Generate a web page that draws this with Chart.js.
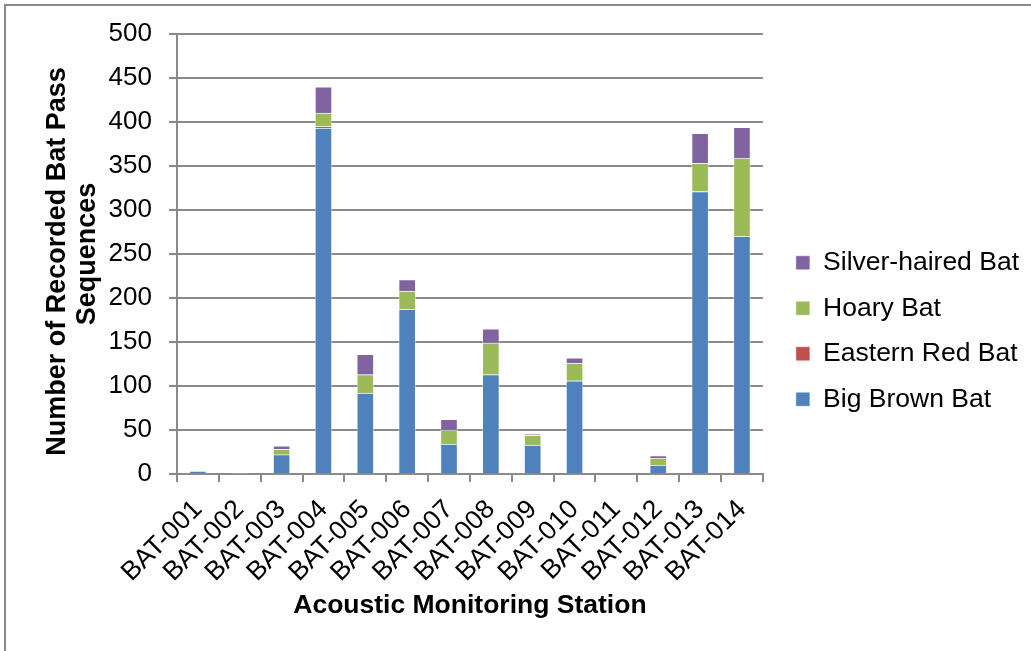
<!DOCTYPE html>
<html>
<head>
<meta charset="utf-8">
<script src="https://cdn.jsdelivr.net/npm/chart.js@4/dist/chart.umd.min.js"></script>
<style>
  html, body { margin: 0; padding: 0; background: #ffffff; }
  #wrap { width: 1031px; height: 651px; position: relative; }
</style>
</head>
<body>
<div id="wrap"><canvas id="c" width="1031" height="651"></canvas></div>
<script>
const stations = ['BAT-001','BAT-002','BAT-003','BAT-004','BAT-005','BAT-006','BAT-007','BAT-008','BAT-009','BAT-010','BAT-011','BAT-012','BAT-013','BAT-014'];
const bigBrownBat    = [3, 0, 22, 393, 92, 187, 34, 113, 33, 106, 0, 10, 321, 270];
const easternRedBat  = [0, 0, 0, 2, 0, 0, 0, 0, 0, 0, 0, 0, 0, 0];
const hoaryBat       = [0, 1, 6, 15, 21, 21, 16, 36, 11, 20, 0, 8, 32, 89];
const silverHairedBat= [0, 0, 4, 30, 23, 13, 12, 16, 1, 6, 0, 3, 34, 35];
const yTicks = [0, 50, 100, 150, 200, 250, 300, 350, 400, 450, 500];

const FONT = "'Liberation Sans', Arial, sans-serif";
const GRID = '#8a8a8a';

const frame = {
  id: 'frame',
  afterLayout(chart) {
    const lg = chart.legend;
    if (lg) {
      const w = lg.width;
      lg.left = chart.chartArea.right + 14;
      lg.right = lg.left + w;
    }
  },
  beforeDraw(chart) {
    const ctx = chart.ctx;
    ctx.save();
    ctx.fillStyle = '#ffffff';
    ctx.fillRect(0, 0, chart.width, chart.height);
    ctx.strokeStyle = '#8a8a8a';
    ctx.lineWidth = 2;
    ctx.beginPath();
    ctx.moveTo(5, chart.height);
    ctx.lineTo(5, 5);
    ctx.lineTo(chart.width, 5);
    ctx.stroke();
    ctx.restore();
  }
};

const mk = (label, data, color) => ({
  label, data,
  backgroundColor: color,
  borderColor: 'rgba(255,255,255,0.45)',
  borderWidth: 1,
  barThickness: 17
});

new Chart(document.getElementById('c'), {
  type: 'bar',
  data: {
    labels: stations,
    datasets: [
      mk('Big Brown Bat', bigBrownBat, '#4F81BD'),
      mk('Eastern Red Bat', easternRedBat, '#C0504D'),
      mk('Hoary Bat', hoaryBat, '#9BBB59'),
      mk('Silver-haired Bat', silverHairedBat, '#8064A2')
    ]
  },
  options: {
    responsive: false,
    animation: false,
    devicePixelRatio: 1,
    layout: { padding: { left: 0, top: 34, bottom: 23, right: 16 } },
    plugins: {
      tooltip: { enabled: false },
      legend: {
        position: 'right',
        reverse: true,
        labels: {
          boxWidth: 14,
          boxHeight: 14,
          padding: 19,
          color: '#000000',
          font: { family: FONT, size: 26.5 }
        }
      }
    },
    scales: {
      x: {
        stacked: true,
        grid: { display: true, drawOnChartArea: false, drawTicks: true, tickLength: 8, color: GRID, lineWidth: 2, offset: true },
        border: { display: true, color: GRID, width: 2 },
        ticks: {
          color: '#000000',
          font: { family: FONT, size: 26.5 },
          minRotation: 45, maxRotation: 45,
          autoSkip: false,
          padding: 12
        },
        title: {
          display: true,
          text: 'Acoustic Monitoring Station',
          color: '#000000',
          font: { family: FONT, size: 26.5, weight: 'bold' },
          padding: { top: 0, bottom: 6 }
        },
        afterFit(scale) { scale.height = 154; }
      },
      y: {
        stacked: true,
        min: 0, max: 500,
        afterBuildTicks(scale) { scale.ticks = yTicks.map(v => ({ value: v })); },
        grid: { color: GRID, lineWidth: 2, drawTicks: true, tickLength: 8 },
        border: { display: true, color: GRID, width: 2 },
        ticks: {
          color: '#000000',
          font: { family: FONT, size: 26 },
          padding: 17
        },
        title: {
          display: true,
          text: ['Number of Recorded Bat Pass  ', 'Sequences'],
          color: '#000000',
          font: { family: FONT, size: 27, weight: 'bold', lineHeight: 1.12 },
          padding: { top: 42, bottom: 0 }
        },
        afterFit(scale) { scale.width = 177; }
      }
    }
  },
  plugins: [frame]
});
</script>
</body>
</html>
